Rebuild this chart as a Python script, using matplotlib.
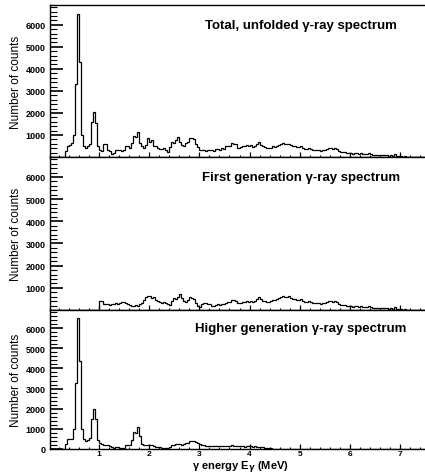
import numpy as np
import matplotlib
matplotlib.use("Agg")
import matplotlib.pyplot as plt
from matplotlib.ticker import MultipleLocator, FixedLocator

# --- data: gamma-ray spectra, 0.04 MeV bins starting at 0 MeV ---
bin_width = 0.04
n_bins = 188

# total, unfolded spectrum
total_counts = [
    0, 0, 0, 0, 0, 0, 0, 0, 250, 500,                                # 0.00-0.40
    550, 650, 1000, 3300, 6500, 4300, 1000, 500, 400, 480,           # 0.40-0.80
    600, 1600, 2050, 1550, 500, 300, 280, 600, 600, 300,             # 0.80-1.20
    250, 150, 180, 300, 320, 300, 280, 300, 480, 500,                # 1.20-1.60
    420, 650, 950, 900, 1120, 650, 500, 420, 550, 850,               # 1.60-2.00
    700, 750, 520, 480, 400, 380, 350, 400, 300, 230,                # 2.00-2.40
    450, 700, 620, 750, 900, 700, 550, 480, 620, 700,                # 2.40-2.80
    850, 880, 800, 600, 450, 300, 320, 300, 280, 330,                # 2.80-3.20
    300, 310, 280, 350, 380, 340, 400, 380, 480, 520,                # 3.20-3.60
    500, 620, 600, 580, 430, 450, 520, 480, 560, 500,                # 3.60-4.00
    540, 470, 520, 600, 680, 560, 480, 450, 420, 400,                # 4.00-4.40
    430, 480, 460, 500, 560, 590, 620, 600, 580, 610,                # 4.40-4.80
    550, 500, 480, 470, 450, 480, 400, 380, 370, 390,                # 4.80-5.20
    360, 330, 300, 320, 310, 290, 320, 300, 360, 410,                # 5.20-5.60
    400, 380, 420, 350, 250, 230, 210, 240, 180, 200,                # 5.60-6.00
    170, 150, 180, 160, 150, 170, 140, 150, 130, 160,                # 6.00-6.40
    120, 100, 110, 90, 100, 80, 90, 70, 80, 60,                      # 6.40-6.80
    70, 60, 150, 50, 40, 30, 20, 30, 20, 10,                         # 6.80-7.20
    0, 0, 0, 0, 0, 0, 0, 0,                                          # 7.20-7.52
]

# first generation spectrum
first_gen_counts = [
    0, 0, 0, 0, 0, 0, 0, 0, 0, 0,                                    # 0.00-0.40
    0, 0, 0, 0, 0, 0, 0, 0, 0, 0,                                    # 0.40-0.80
    0, 0, 0, 0, 0, 420, 400, 280, 250, 270,                          # 0.80-1.20
    230, 280, 250, 300, 260, 320, 370, 380, 300, 280,                # 1.20-1.60
    230, 200, 180, 220, 200, 250, 300, 450, 580, 650,                # 1.60-2.00
    620, 560, 600, 450, 420, 380, 330, 360, 300, 250,                # 2.00-2.40
    230, 400, 550, 500, 600, 720, 550, 400, 380, 450,                # 2.40-2.80
    580, 550, 480, 300, 200, 150, 250, 320, 300, 280,                # 2.80-3.20
    250, 200, 180, 220, 250, 220, 270, 250, 330, 370,                # 3.20-3.60
    350, 450, 430, 420, 300, 320, 380, 350, 420, 370,                # 3.60-4.00
    400, 350, 400, 480, 600, 480, 410, 400, 380, 370,                # 4.00-4.40
    410, 470, 460, 500, 560, 590, 620, 600, 580, 610,                # 4.40-4.80
    550, 500, 480, 470, 450, 480, 400, 380, 370, 390,                # 4.80-5.20
    360, 330, 300, 320, 310, 290, 320, 300, 360, 410,                # 5.20-5.60
    400, 380, 420, 350, 250, 230, 210, 240, 180, 200,                # 5.60-6.00
    170, 150, 180, 160, 150, 170, 140, 150, 130, 160,                # 6.00-6.40
    120, 100, 110, 90, 100, 80, 90, 70, 80, 60,                      # 6.40-6.80
    70, 60, 150, 50, 40, 30, 20, 30, 20, 10,                         # 6.80-7.20
    0, 0, 0, 0, 0, 0, 0, 0,                                          # 7.20-7.52
]

# higher generation spectrum
higher_gen_counts = [
    0, 0, 0, 0, 0, 0, 0, 0, 250, 500,                                # 0.00-0.40
    520, 500, 1000, 3300, 6500, 4350, 1000, 500, 400, 450,           # 0.40-0.80
    560, 1500, 2000, 1500, 450, 280, 260, 220, 180, 200,             # 0.80-1.20
    150, 80, 60, 90, 80, 60, 50, 70, 180, 220,                       # 1.20-1.60
    200, 450, 850, 800, 1070, 640, 250, 180, 180, 200,               # 1.60-2.00
    220, 180, 150, 120, 80, 80, 70, 60, 50, 60,                      # 2.00-2.40
    120, 200, 180, 250, 270, 230, 200, 260, 300, 320,                # 2.40-2.80
    380, 400, 390, 330, 280, 250, 200, 180, 150, 170,                # 2.80-3.20
    150, 160, 140, 150, 170, 150, 140, 160, 150, 170,                # 3.20-3.60
    160, 180, 150, 140, 130, 150, 140, 120, 140, 130,                # 3.60-4.00
    140, 120, 130, 120, 100, 90, 80, 60, 50, 40,                     # 4.00-4.40
    30, 20, 10, 10, 0, 0, 0, 0, 0, 0,                                # 4.40-4.80
] + [0] * 68                                                         # 4.80-7.52

panel_titles = [
    "Total, unfolded \u03b3-ray spectrum",
    "First generation \u03b3-ray spectrum",
    "Higher generation \u03b3-ray spectrum",
]
y_major_ticks = [
    [1000, 2000, 3000, 4000, 5000, 6000],
    [1000, 2000, 3000, 4000, 5000, 6000],
    [0, 1000, 2000, 3000, 4000, 5000, 6000],
]
x_major_ticks = [1, 2, 3, 4, 5, 6, 7]

edges = np.arange(n_bins + 1) * bin_width

plt.rcParams['font.family'] = ['Liberation Sans', 'DejaVu Sans']
plt.rcParams['font.weight'] = 'bold'

fig = plt.figure(figsize=(4.25, 4.77), dpi=100)

# axes boxes in pixel terms: left 50, panels stacked with no gap
W, H = 425.0, 477.0
panel_px = [(6, 158), (158, 311), (311, 450)]
series = [total_counts, first_gen_counts, higher_gen_counts]

for k, (top, bot) in enumerate(panel_px):
    ax = fig.add_axes([50 / W, 1 - bot / H, 375 / W, (bot - top) / H])
    ax.stairs(series[k], edges, color='black', linewidth=0.9)

    ax.set_xlim(0.02, 7.5)
    ax.set_ylim(0, 6900)

    ax.spines['right'].set_visible(False)
    for s in ['left', 'bottom', 'top']:
        ax.spines[s].set_linewidth(1.0)

    ax.xaxis.set_major_locator(FixedLocator(x_major_ticks))
    ax.xaxis.set_minor_locator(MultipleLocator(0.2))
    ax.yaxis.set_major_locator(FixedLocator(y_major_ticks[k]))
    ax.yaxis.set_minor_locator(MultipleLocator(200))

    ax.tick_params(axis='x', which='major', direction='in', length=3.5, width=0.9,
                   labelsize=6, pad=0.5, top=False)
    ax.tick_params(axis='x', which='minor', direction='in', length=1.8, width=0.8, top=False)
    ax.tick_params(axis='y', which='major', direction='in', length=9, width=1.2,
                   labelsize=6.5, pad=3, right=False)
    ax.tick_params(axis='y', which='minor', direction='in', length=5, width=0.8, right=False)

    if k < 2:
        ax.tick_params(axis='x', labelbottom=False)

    ax.set_ylabel("Number of counts", fontsize=8.5,
                  family=['Liberation Sans Narrow', 'Liberation Sans', 'DejaVu Sans'],
                  fontweight='normal')
    ax.yaxis.set_label_coords(-0.075, 0.5)

    ax.text(0.669, 0.87, panel_titles[k], transform=ax.transAxes,
            ha='center', va='center', fontsize=9.5, fontweight='bold')

fig.text(240 / W, 1 - 470 / H, "\u03b3 energy E$_{\\gamma}$ (MeV)",
         ha='center', va='baseline', fontsize=8, fontweight='bold')

plt.savefig("out.png", dpi=100)
plt.close(fig)
